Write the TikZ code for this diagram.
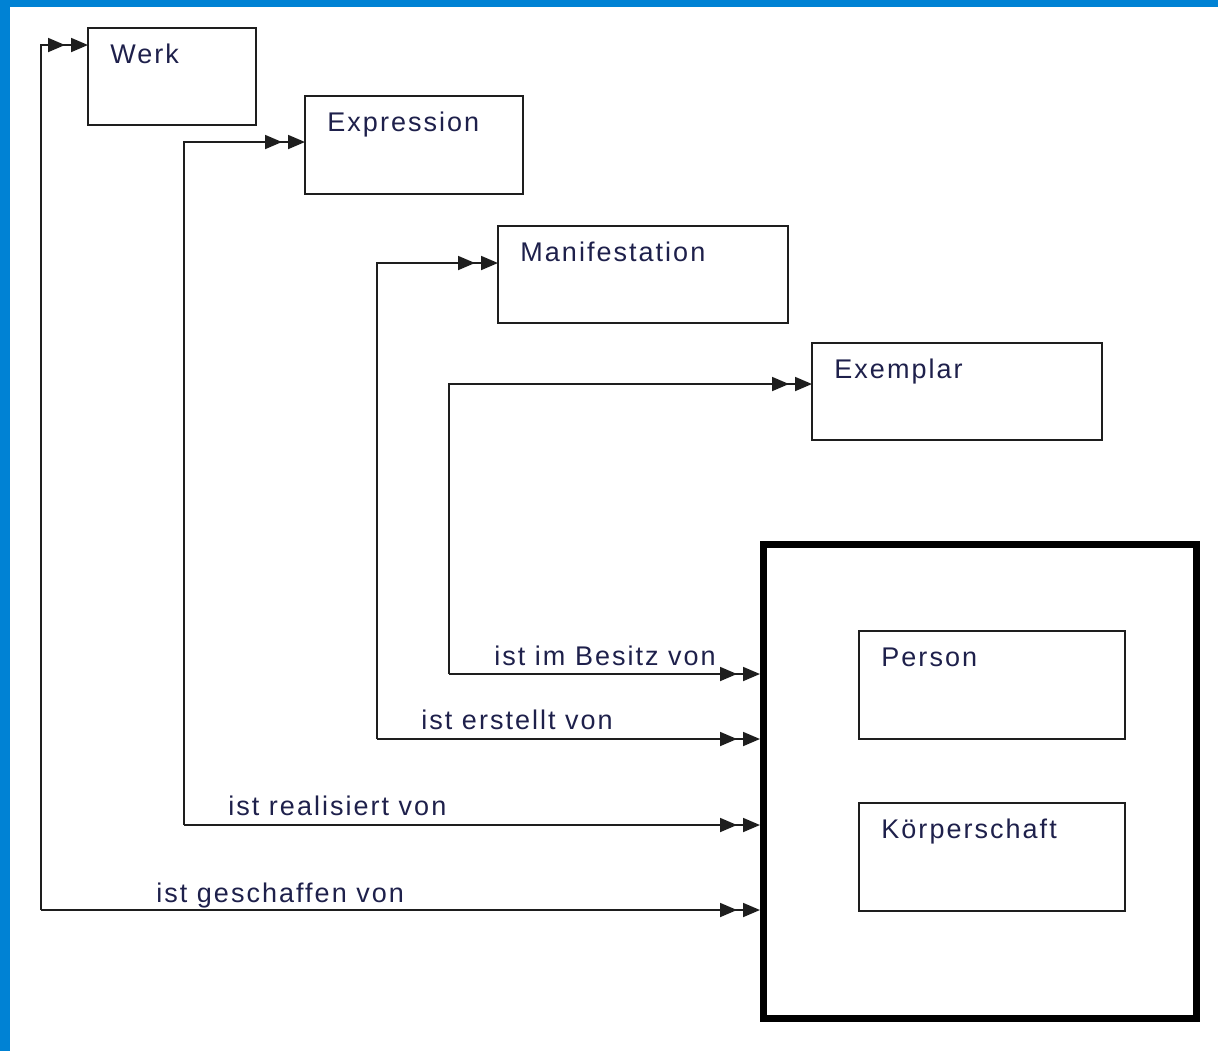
\documentclass[tikz,border=0pt]{standalone}
\usepackage{fontspec}
\setmainfont{Liberation Sans}[LetterSpace=7.5]
\usetikzlibrary{arrows.meta}
\definecolor{frame}{RGB}{0,130,212}
\definecolor{ink}{RGB}{30,32,75}
\definecolor{edge}{RGB}{30,30,30}
\begin{document}
\begin{tikzpicture}[
  x=0.5pt, y=-0.5pt,
  every node/.style = {font=\fontsize{13.5}{16}\selectfont, text=ink},
  box/.style = {draw=edge, line width=0.8pt, inner sep=0pt, outer sep=0pt},
  bigbox/.style = {draw=black, line width=3.5pt, inner sep=0pt},
  title/.style = {anchor=base west, inner sep=0pt},
  link/.style = {draw=edge, line width=0.9pt,
    -{Triangle[length=8.5pt,width=7pt,sep=3pt]Triangle[length=8.5pt,width=7pt]}}
  ]
  \useasboundingbox (0,0) rectangle (1218,1051);
  \fill[frame] (0,0) rectangle (1218,7);
  \fill[frame] (0,0) rectangle (10,1051);

  % entities
  \node[box, minimum width=84pt, minimum height=48.5pt] (werk) at (172,76.5) {};
  \node[box, minimum width=109pt, minimum height=49pt] (expr) at (414,145) {};
  \node[box, minimum width=145pt, minimum height=48.5pt] (mani) at (643,274.5) {};
  \node[box, minimum width=145pt, minimum height=48.5pt] (exem) at (957,391.5) {};
  \node[bigbox, minimum width=216.5pt, minimum height=237pt] (agent) at (980,781) {};
  \node[box, minimum width=133pt, minimum height=54pt] (pers) at (992,685) {};
  \node[box, minimum width=133pt, minimum height=54pt] (koerp) at (992,857) {};

  \node[title] (werkname) at ([xshift=11pt,yshift=-17.5pt]werk.north west) {Werk};
  \node[title] (exprname) at ([xshift=11pt,yshift=-17.5pt]expr.north west) {Expression};
  \node[title] (maniname) at ([xshift=11pt,yshift=-17.5pt]mani.north west) {Manifestation};
  \node[title] (exemname) at ([xshift=11pt,yshift=-17.5pt]exem.north west) {Exemplar};
  \node[title] (persname) at ([xshift=11pt,yshift=-17.5pt]pers.north west) {Person};
  \node[title] (koerpname) at ([xshift=11pt,yshift=-17.5pt]koerp.north west) {Körperschaft};

  % relations
  \coordinate (wtop) at (41,45);   \coordinate (wbot) at (41,910);
  \coordinate (etop) at (184,142); \coordinate (ebot) at (184,825);
  \coordinate (mtop) at (377,263); \coordinate (mbot) at (377,739);
  \coordinate (xtop) at (449,384); \coordinate (xbot) at (449,674);

  \draw[link] (wbot) -- (wtop) -- (werk.west |- wtop);
  \draw[link] (wbot) -- (agent.west |- wbot);
  \draw[link] (ebot) -- (etop) -- (expr.west |- etop);
  \draw[link] (ebot) -- (agent.west |- ebot);
  \draw[link] (mbot) -- (mtop) -- (mani.west |- mtop);
  \draw[link] (mbot) -- (agent.west |- mbot);
  \draw[link] (xbot) -- (xtop) -- (exem.west |- xtop);
  \draw[link] (xbot) -- (agent.west |- xbot);

  \node[title] (geschaffen) at (156,902) {ist geschaffen von};
  \node[title] (realisiert) at (228,815) {ist realisiert von};
  \node[title] (erstellt) at (421,729) {ist erstellt von};
  \node[title] (besitz) at (494,665) {ist im Besitz von};
\end{tikzpicture}
\end{document}
